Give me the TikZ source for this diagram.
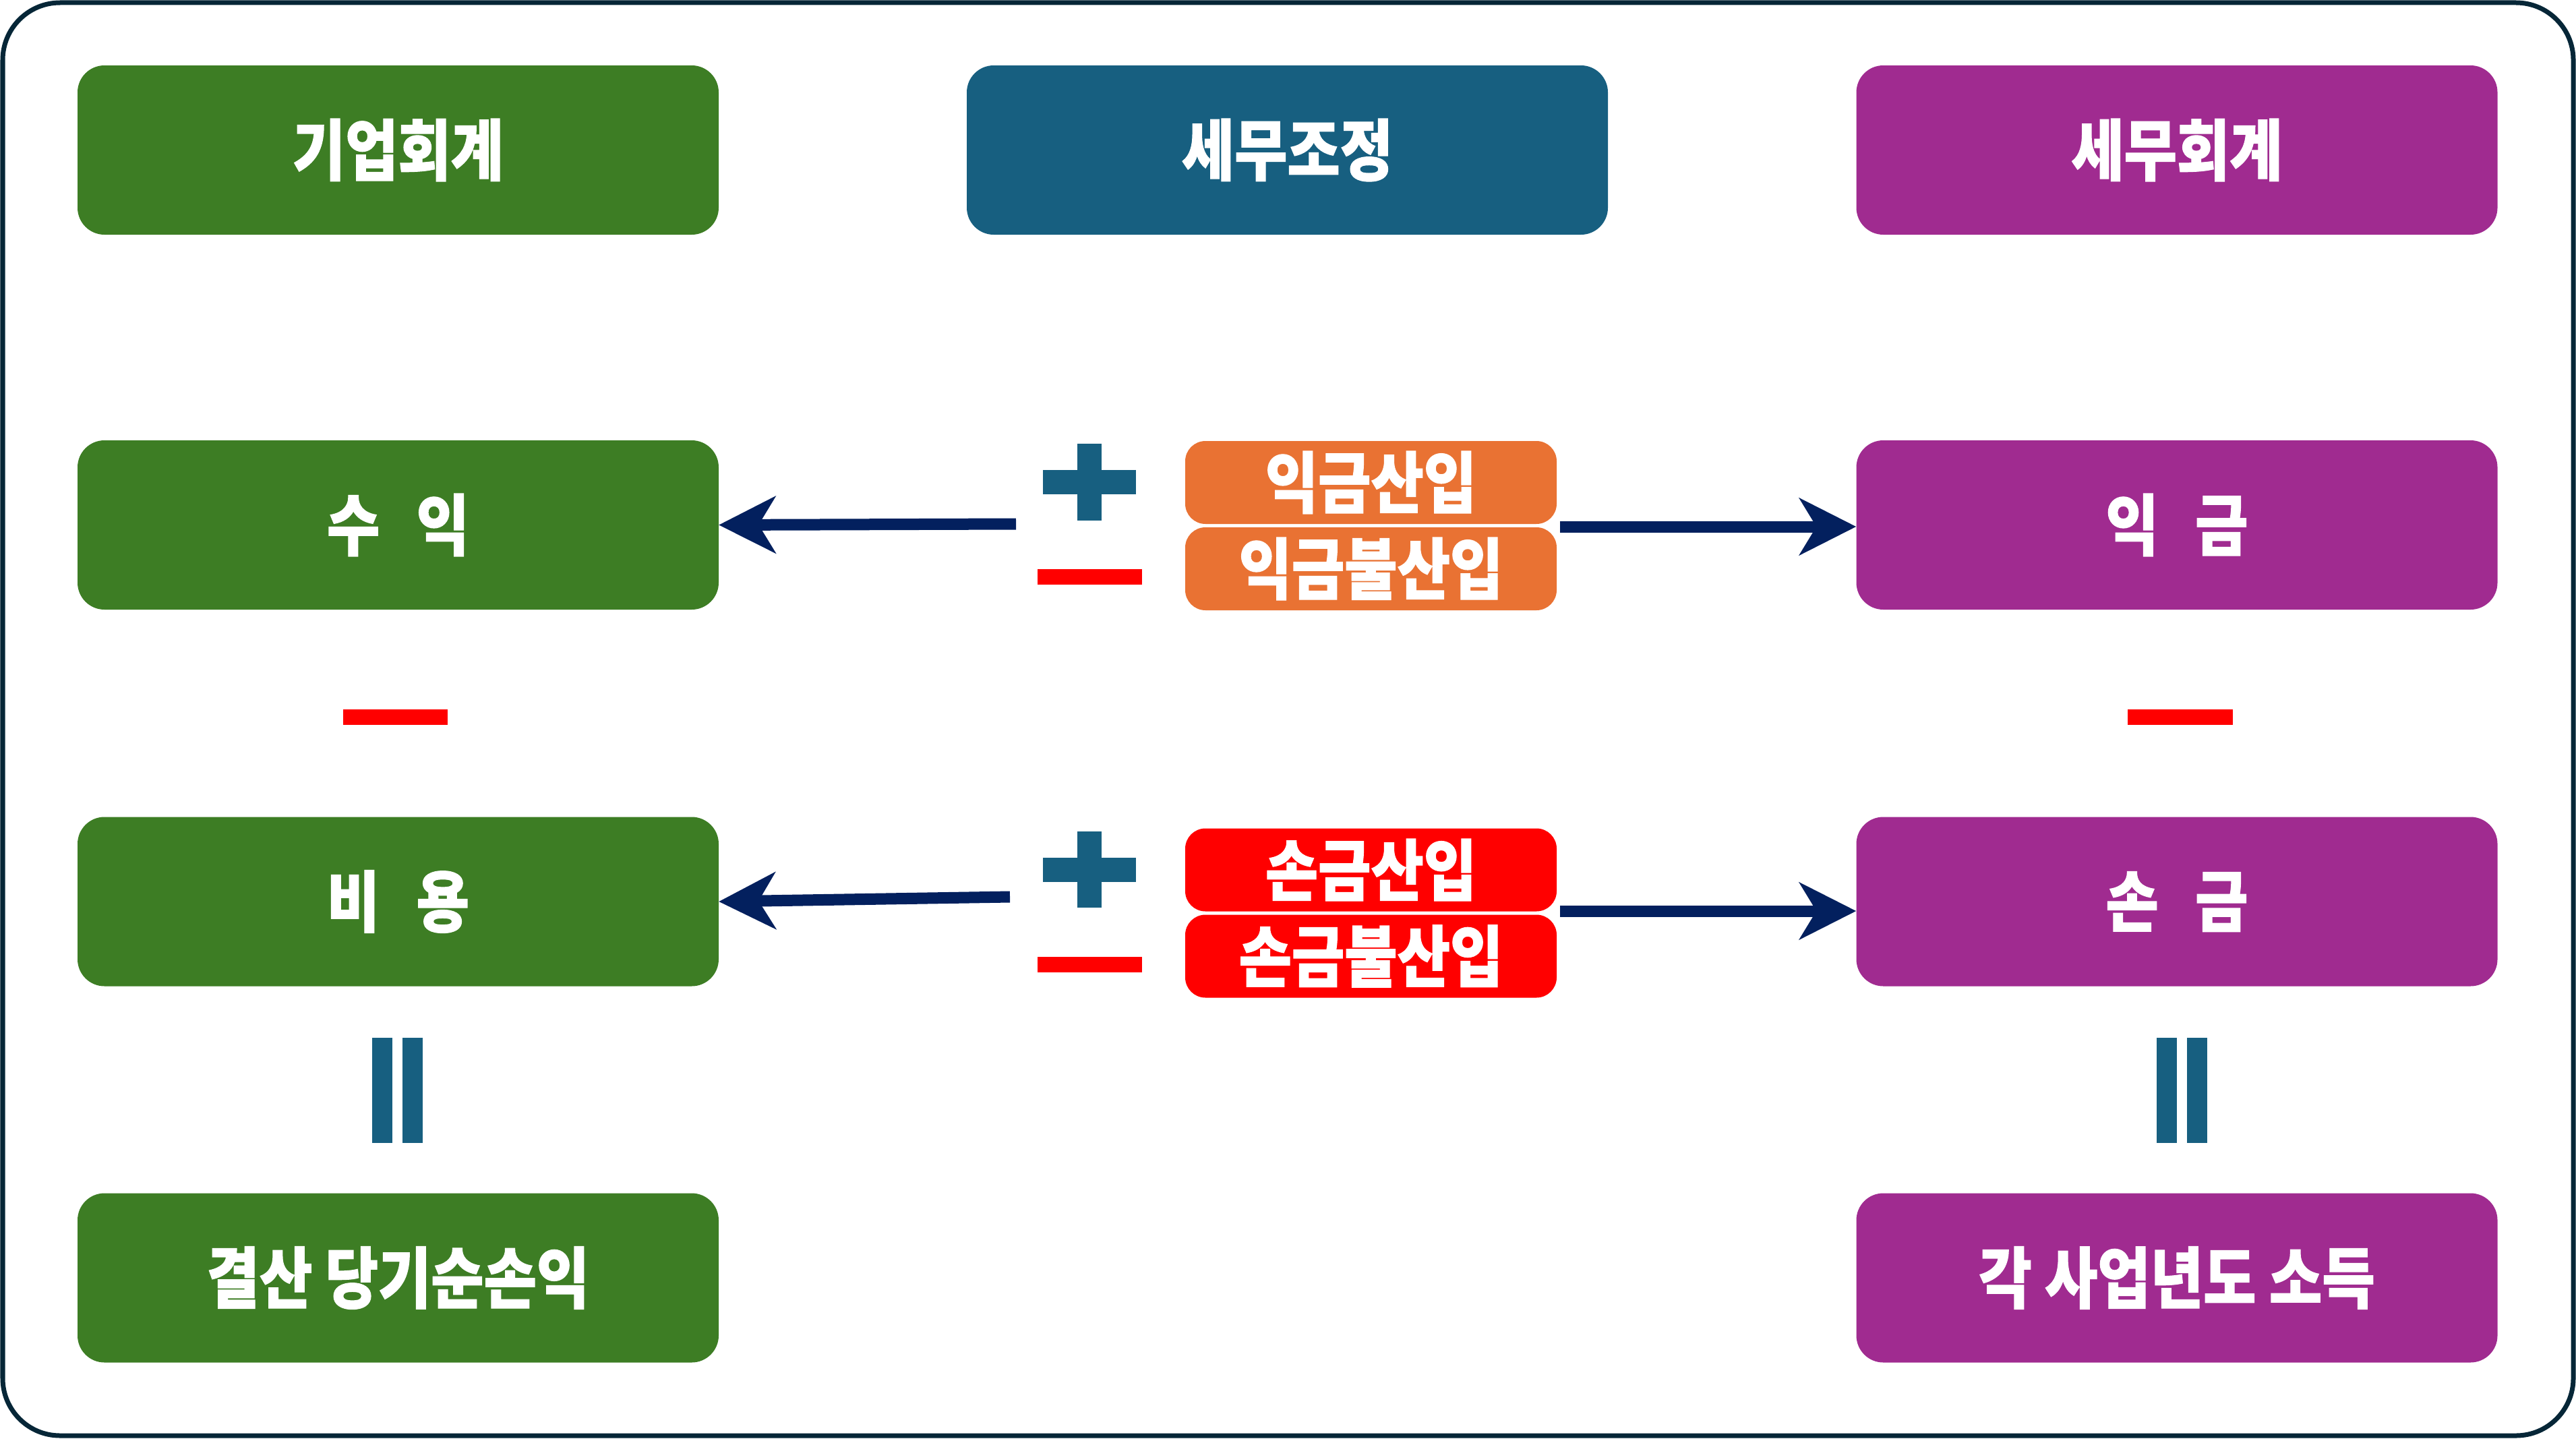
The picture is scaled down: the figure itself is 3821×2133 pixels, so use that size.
\documentclass[tikz,border=0pt]{standalone}
\usepackage{fontspec}
\usetikzlibrary{arrows.meta}
\newfontfamily\krfont[FakeStretch=0.86, BoldFeatures={FakeBold=1.2}]{Noto Sans CJK KR}
\definecolor{cgreen}{HTML}{3D7D24}
\definecolor{cblue}{HTML}{175F80}
\definecolor{cpurple}{HTML}{A02B90}
\definecolor{corange}{HTML}{E97233}
\definecolor{cred}{HTML}{FF0000}
\definecolor{cnavy}{HTML}{03205E}
\definecolor{cframe}{HTML}{062637}
\tikzset{
  bigbox/.style={rounded corners=40pt, minimum width=951pt, minimum height=251pt, inner sep=0pt, text=white, font=\krfont\bfseries\fontsize{99}{104}\selectfont},
  smallbox/.style={rounded corners=30pt, minimum width=551pt, minimum height=123pt, inner sep=0pt, text=white, font=\krfont\bfseries\fontsize{99}{104}\selectfont},
  navyarrow/.style={draw=cnavy, line width=17pt, -{Stealth[length=84pt, width=84pt, inset=25pt]}},
}
\begin{document}
\begin{tikzpicture}[x=1pt, y=-1pt]
\useasboundingbox (0,0) rectangle (3821,2133);
\draw[cframe, line width=7pt, rounded corners=85pt] (4,4) rectangle (3817,2129);
% header row
\node[bigbox, fill=cgreen] (h1) at (590.5,222.5) {기업회계};
\node[bigbox, fill=cblue] (h2) at (1909.5,222.5) {세무조정};
\node[bigbox, fill=cpurple] (h3) at (3229,222.5) {세무회계};
% row 2
\node[bigbox, fill=cgreen] (r1) at (590.5,778.5) {수\hspace{0.55em}익};
\node[bigbox, fill=cpurple] (r2) at (3229,778.5) {익\hspace{0.55em}금};
% row 3
\node[bigbox, fill=cgreen] (c1) at (590.5,1337) {비\hspace{0.55em}용};
\node[bigbox, fill=cpurple] (c2) at (3229,1337) {손\hspace{0.55em}금};
% row 4
\node[bigbox, fill=cgreen] (b1) at (590.5,1895) {결산 당기순손익};
\node[bigbox, fill=cpurple] (b2) at (3229,1895) {각 사업년도 소득};
% middle small boxes
\node[smallbox, fill=corange] (o1) at (2033.5,715.5) {익금산입};
\node[smallbox, fill=corange] (o2) at (2033.5,843.5) {익금불산입};
\node[smallbox, fill=cred] (d1) at (2033.5,1290) {손금산입};
\node[smallbox, fill=cred] (d2) at (2033.5,1418) {손금불산입};
% plus / minus signs
\fill[cblue] (1598,658) rectangle (1634,772);
\fill[cblue] (1547,697) rectangle (1685,733);
\fill[cred] (1539,844) rectangle (1694,867);
\fill[cblue] (1598,1233) rectangle (1634,1346);
\fill[cblue] (1547,1272) rectangle (1685,1308);
\fill[cred] (1539,1419) rectangle (1694,1442);
% minus between rows
\fill[cred] (509,1052) rectangle (664,1075);
\fill[cred] (3156,1052) rectangle (3312,1075);
% equals (vertical bars)
\fill[cblue] (552,1539) rectangle (582,1695);
\fill[cblue] (597,1539) rectangle (627,1695);
\fill[cblue] (3199,1539) rectangle (3229,1695);
\fill[cblue] (3244,1539) rectangle (3274,1695);
% arrows
\coordinate (a1) at (1507,777);
\coordinate (a2) at (2314,781);
\coordinate (a3) at (1498,1330);
\coordinate (a4) at (2314,1351);
\draw[navyarrow] (a1) -- (r1.east);
\draw[navyarrow] (a2) -- (a2 -| r2.west);
\draw[navyarrow] (a3) -- (c1.east);
\draw[navyarrow] (a4) -- (a4 -| c2.west);
\end{tikzpicture}
\end{document}
